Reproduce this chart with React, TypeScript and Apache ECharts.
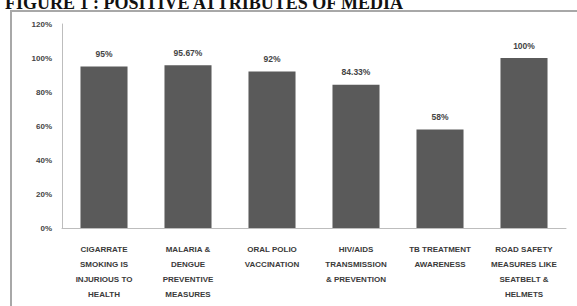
import React, { useEffect, useRef } from "react";
import * as echarts from "echarts";

const categories = [
  "CIGARRATE\nSMOKING IS\nINJURIOUS TO\nHEALTH",
  "MALARIA &\nDENGUE\nPREVENTIVE\nMEASURES",
  "ORAL POLIO\nVACCINATION",
  "HIV/AIDS\nTRANSMISSION\n& PREVENTION",
  "TB TREATMENT\nAWARENESS",
  "ROAD SAFETY\nMEASURES LIKE\nSEATBELT &\nHELMETS",
];
const values = [95, 95.67, 92, 84.33, 58, 100];
const valueLabels = ["95%", "95.67%", "92%", "84.33%", "58%", "100%"];
const title = "FIGURE 1 : POSITIVE ATTRIBUTES OF MEDIA";

export default function App() {
  const ref = useRef<HTMLDivElement>(null);
  useEffect(() => {
    const chart = echarts.init(ref.current!, null, { renderer: "svg" });
    chart.setOption({
      animation: false,
      backgroundColor: "#ffffff",
      graphic: [
        {
          type: "text",
          x: 5,
          y: 12,
          style: {
            text: title,
            font: "bold 18px 'Liberation Serif', serif",
            fill: "#111",
            verticalAlign: "bottom",
          },
        },
        {
          type: "rect",
          shape: { x: 11, y: 11, width: 620, height: 400 },
          style: { fill: "none", stroke: "#a8a8a8", lineWidth: 2 },
        },
      ],
      grid: { left: 62, right: 11, top: 24, bottom: 78 },
      xAxis: {
        type: "category",
        data: categories,
        axisLine: { show: true, lineStyle: { color: "#bdbdbd", width: 1 } },
        axisTick: { show: false },
        axisLabel: {
          interval: 0,
          margin: 14,
          fontSize: 8,
          fontWeight: "bold",
          lineHeight: 15,
          fontFamily: "'Liberation Sans', sans-serif",
          color: "#3a3a3a",
          align: "center",
        },
      },
      yAxis: {
        type: "value",
        min: 0,
        max: 120,
        interval: 20,
        splitLine: { show: false },
        axisLine: { show: true, lineStyle: { color: "#bdbdbd", width: 1 } },
        axisTick: { show: false },
        axisLabel: {
          formatter: "{value}%",
          margin: 10,
          fontSize: 8,
          fontWeight: "bold",
          fontFamily: "'Liberation Sans', sans-serif",
          color: "#444",
        },
      },
      series: [
        {
          type: "bar",
          data: values,
          barWidth: "56%",
          itemStyle: { color: "#5a5a5a" },
          label: {
            show: true,
            position: "top",
            distance: 8,
            fontSize: 8.5,
            fontWeight: "bold",
            fontFamily: "'Liberation Sans', sans-serif",
            color: "#444",
            formatter: (p: any) => valueLabels[p.dataIndex],
          },
        },
      ],
    });
    return () => chart.dispose();
  }, []);
  return (
    <div
      ref={ref}
      style={{ position: "fixed", left: 0, top: 0, width: 577, height: 306 }}
    />
  );
}
